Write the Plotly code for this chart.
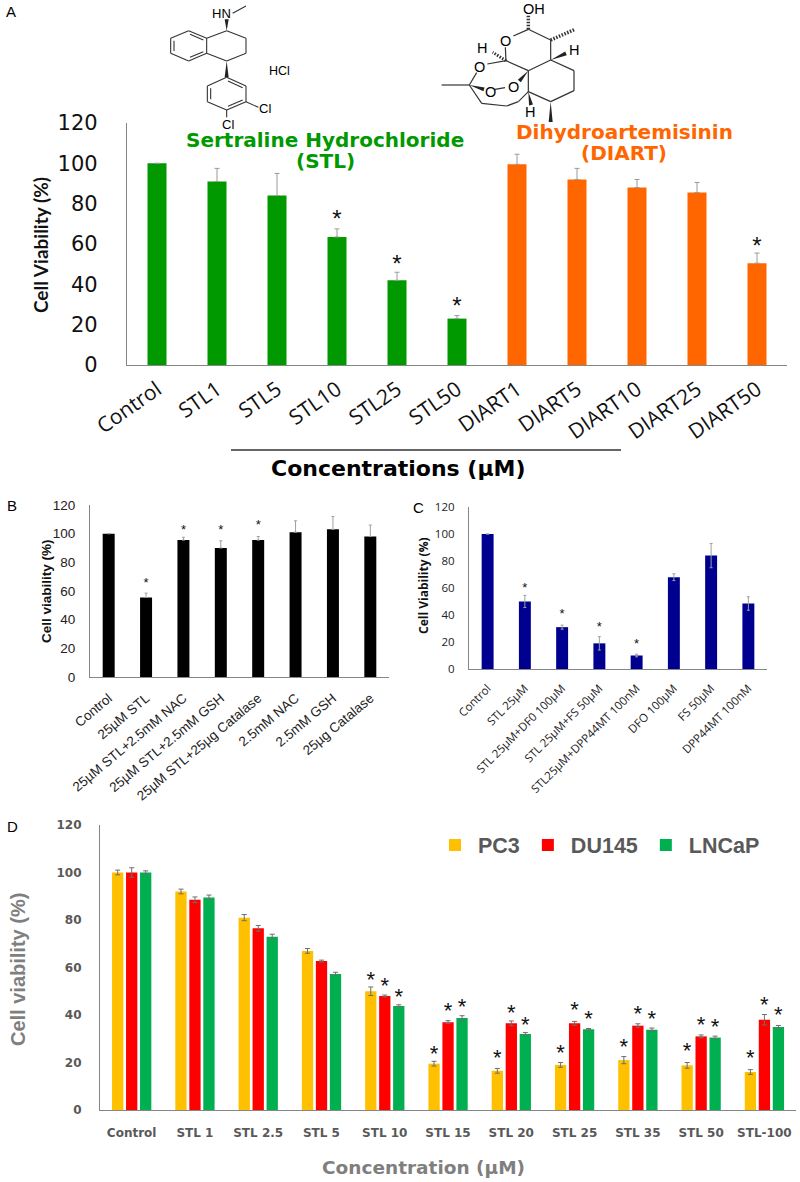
import plotly.graph_objects as go

W, H = 800, 1182

# ---------- data ----------
a_labels = ["Control", "STL1", "STL5", "STL10", "STL25", "STL50", "DIART1", "DIART5", "DIART10", "DIART25", "DIART50"]
a_values = [100, 91, 84, 63.5, 42, 23, 99.5, 92, 88, 85.5, 50.5]
a_errors = [0, 6.5, 11, 4, 4, 1.5, 5, 5.5, 4, 5, 5]
a_colors = ["#009900"] * 6 + ["#FF6600"] * 5
a_star_x = ["STL10", "STL25", "STL50", "DIART50"]
a_star_y = [71.5, 49, 28.2, 58]

b_labels = ["Control", "25µM STL", "25µM STL+2.5mM NAC", "25µM STL+2.5mM GSH", "25µM STL+25µg Catalase",
            "2.5mM NAC", "2.5mM GSH", "25µg Catalase"]
b_values = [100, 55.5, 95.5, 90, 95.5, 101, 103, 98]
b_errors = [0, 3, 2, 5, 2.5, 8, 9, 8]
b_star_x = ["25µM STL", "25µM STL+2.5mM NAC", "25µM STL+2.5mM GSH", "25µM STL+25µg Catalase"]
b_star_y = [65.3, 101.9, 101.9, 105.6]

c_labels = ["Control", "STL 25µM", "STL 25µM+DF0 100µM", "STL 25µM+FS 50µM", "STL25µM+DPP44MT 100nM",
            "DFO 100µM", "FS 50µM", "DPP44MT 100nM"]
c_values = [100, 50, 31, 19, 10, 68, 84, 48.5]
c_errors = [0, 4.5, 1.5, 5, 1, 2.5, 9, 5]
c_star_x = ["STL 25µM", "STL 25µM+DF0 100µM", "STL 25µM+FS 50µM", "STL25µM+DPP44MT 100nM"]
c_star_y = [59.8, 40.2, 30.5, 18.2]

d_labels = ["Control", "STL 1", "STL 2.5", "STL 5", "STL 10", "STL 15", "STL 20", "STL 25", "STL 35", "STL 50", "STL-100"]
d_pc3 = [100, 92, 81, 67, 50, 19.5, 16.5, 19, 21, 18.8, 16]
d_du145 = [100, 88.5, 76.5, 62.7, 48, 37, 36.5, 36.5, 35.5, 31, 38]
d_lncap = [100, 89.5, 73, 57.3, 43.8, 38.7, 32, 34, 33.8, 30.5, 35]
d_pc3_err = [1, 1, 1.3, 1, 1.8, 1, 1, 1, 1.5, 1.2, 1]
d_du145_err = [2, 1.2, 1.2, 0.4, 0.4, 0.6, 1, 0.8, 0.8, 0.6, 2.2]
d_lncap_err = [0.7, 1, 1, 0.7, 0.5, 1, 0.6, 0.3, 0.7, 0.6, 0.6]
d_star_idx = [4, 5, 6, 7, 8, 9, 10]
d_pc3_star = [54.3, 23, 21.3, 23.4, 25.8, 24.1, 21.1]
d_du145_star = [51.5, 41, 40.2, 41.6, 39.6, 35, 43.5]
d_lncap_star = [46.9, 42.8, 35.3, 37.8, 37.5, 34.5, 39.3]
y_ticks = [0, 20, 40, 60, 80, 100, 120]

# ---------- helpers ----------
def px(x): return x / W
def py(y): return 1 - y / H

SANS = "Liberation Sans"
OPEN = "Open Sans"
LATO = "Lato"
DEJA = "DejaVu Sans"
shapes, annots = [], []

def txt(x, y, s, size, color="#000", family=SANS, bold=False, angle=0, xanchor="center"):
    annots.append(dict(x=px(x), y=py(y), xref="paper", yref="paper", text=f"<b>{s}</b>" if bold else s,
                       showarrow=False, font=dict(size=size, color=color, family=family),
                       textangle=angle, xanchor=xanchor, yanchor="middle"))

def seg(p, q, ox=0, oy=0, color="#333", width=1.1, dash=None, k=1/3):
    ln = dict(color=color, width=width)
    if dash: ln["dash"] = dash
    shapes.append(dict(type="line", xref="paper", yref="paper", x0=px(ox + p[0]*k), y0=py(oy + p[1]*k),
                       x1=px(ox + q[0]*k), y1=py(oy + q[1]*k), line=ln))

def wedge(p, q, ox=0, oy=0, hw=2.0, color="#222", k=1/3):
    x0, y0, x1, y1 = ox + p[0]*k, oy + p[1]*k, ox + q[0]*k, oy + q[1]*k
    dx, dy = x1 - x0, y1 - y0
    n = (dx*dx + dy*dy) ** 0.5
    nx, ny = -dy/n*hw, dx/n*hw
    path = f"M {px(x0)} {py(y0)} L {px(x1+nx)} {py(y1+ny)} L {px(x1-nx)} {py(y1-ny)} Z"
    shapes.append(dict(type="path", xref="paper", yref="paper", path=path,
                       fillcolor=color, line=dict(color=color, width=0)))

def axes(x0, x1, y0, y1, n, tfont, yfont, xlen, ylen, angle, color="#868686", lw=1.2):
    xa = dict(domain=[px(x0), px(x1)], range=[-0.5, n - 0.5], showgrid=False, zeroline=False, showline=True,
              linecolor=color, linewidth=lw, ticks="outside", ticklen=xlen, tickcolor="rgba(0,0,0,0)",
              tickfont=tfont, tickangle=angle, automargin=False, fixedrange=True)
    ya = dict(domain=[py(y1), py(y0)], range=[0, 120], tickvals=y_ticks, showgrid=False, zeroline=False, showline=True,
              linecolor=color, linewidth=lw, ticks="outside", ticklen=ylen, tickcolor="rgba(0,0,0,0)",
              tickfont=yfont, automargin=False, fixedrange=True)
    return xa, ya

def stars(x, y, xa, ya, size, color="#111"):
    return go.Scatter(x=x, y=y, mode="text", text=["*"] * len(x), textposition="middle center",
                      textfont=dict(size=size, color=color, family=SANS),
                      xaxis=xa, yaxis=ya, showlegend=False, hoverinfo="skip", cliponaxis=False)

fig = go.Figure()

# ---------- panel A ----------
fig.add_trace(go.Bar(x=a_labels, y=a_values, marker=dict(color=a_colors, line_width=0), xaxis="x", yaxis="y",
                     showlegend=False, width=19/60,
                     error_y=dict(type="data", array=a_errors, symmetric=False, color="#9a9a9a", thickness=1, width=2.5)))
fig.add_trace(stars(a_star_x, a_star_y, "x", "y", 24))

# ---------- panel B ----------
fig.add_trace(go.Bar(x=b_labels, y=b_values, marker=dict(color="#000", line_width=0), xaxis="x2", yaxis="y2",
                     showlegend=False, width=12/37.4,
                     error_y=dict(type="data", array=b_errors, symmetric=False, color="#a0a0a0", thickness=1, width=1.5)))
fig.add_trace(stars(b_star_x, b_star_y, "x2", "y2", 13))

# ---------- panel C ----------
fig.add_trace(go.Bar(x=c_labels, y=c_values, marker=dict(color="#000090", line_width=0), xaxis="x3", yaxis="y3",
                     showlegend=False, width=12/37.4,
                     error_y=dict(type="data", array=c_errors, symmetric=True, color="#a0a0a0", thickness=1, width=1.5)))
fig.add_trace(stars(c_star_x, c_star_y, "x3", "y3", 13))

# ---------- panel D ----------
d_x = list(range(len(d_labels)))
pitch = 14 / 63.3
for name, vals, errs, col, star, k in [("PC3", d_pc3, d_pc3_err, "#FFC000", d_pc3_star, -1),
                                       ("DU145", d_du145, d_du145_err, "#FF0000", d_du145_star, 0),
                                       ("LNCaP", d_lncap, d_lncap_err, "#00B050", d_lncap_star, 1)]:
    fig.add_trace(go.Bar(x=d_x, y=vals, name=name, marker=dict(color=col, line_width=0), xaxis="x4", yaxis="y4",
                         offset=k*pitch - 5.6/63.3, width=11.3/63.3,
                         error_y=dict(type="data", array=errs, symmetric=True, color="#6e6e6e", thickness=1, width=2.5)))
    fig.add_trace(stars([i + k*pitch for i in d_star_idx], star, "x4", "y4", 22))

# ---------- axes ----------
xa, ya = axes(127, 787, 123, 365, 11, dict(family=OPEN, size=21, color="#111"), dict(family=DEJA, size=21, color="#111"), 3, 24, -35)
xb, yb = axes(90, 389, 505, 677, 8, dict(family=SANS, size=13.5, color="#222"), dict(family=SANS, size=13.5, color="#222"), 7, 11, -40)
xc, yc = axes(469, 767, 507, 669, 8, dict(family=OPEN, size=11.5, color="#222"), dict(family=OPEN, size=11.5, color="#222"), 7, 11, -45)
xd, yd = axes(100, 796, 825, 1110, 11, dict(family=DEJA, size=12, color="#595959", weight="bold"),
              dict(family=DEJA, size=12, color="#595959", weight="bold"), 11, 15, 0)
xd.update(tickvals=d_x, ticktext=d_labels)
for ax, idx in [((xb, yb), 2), ((xc, yc), 3), ((xd, yd), 4)]:
    ax[0]["anchor"] = f"y{idx}"
    ax[1]["anchor"] = f"x{idx}"

# ---------- texts ----------
txt(11, 11, "A", 15)
txt(12, 505, "B", 15)
txt(418, 507, "C", 15)
txt(12, 826, "D", 15)
txt(325, 140, "Sertraline Hydrochloride", 20, "#009900", family=DEJA, bold=True)
txt(325, 161, "(STL)", 20, "#009900", family=DEJA, bold=True)
txt(624, 132, "Dihydroartemisinin", 20, "#FF6600", family=DEJA, bold=True)
txt(624, 153, "(DIART)", 20, "#FF6600", family=DEJA, bold=True)
txt(41, 245, "Cell Viability (%)", 19, "#111", family=LATO, bold=True, angle=-90)
txt(398, 468, "Concentrations (µM)", 22, "#000", family=DEJA, bold=True)
txt(46, 591, "Cell viability (%)", 13.5, "#111", bold=True, angle=-90)
txt(423, 586, "Cell Viability (%)", 12, "#111", family=OPEN, bold=True, angle=-90)
txt(18, 970, "Cell viability (%)", 20, "#7f7f7f", bold=True, angle=-90)
txt(423, 1167, "Concentration (µM)", 18.5, "#7f7f7f", family=DEJA, bold=True)

# rule under panel A
seg((231, 450), (621, 450), color="#333", width=1.5, k=1)

# ---------- sertraline ----------
OX, OY = 160, 0
ring = [(86, 92), (140, 115), (140, 160), (86, 183), (32, 160), (32, 115), (86, 92)]
for p, q in zip(ring, ring[1:]): seg(p, q, OX, OY)
for p, q in [((90, 103), (130, 120)), ((90, 172), (130, 155)), ((42, 122), (42, 153))]: seg(p, q, OX, OY)
ring = [(140, 115), (200, 92), (258, 115), (258, 160), (200, 183), (140, 160)]
for p, q in zip(ring, ring[1:]): seg(p, q, OX, OY)
wedge((200, 92), (200, 58), OX, OY)
wedge((200, 183), (200, 232), OX, OY)
seg((218, 40), (258, 18), OX, OY)
ring = [(200, 232), (258, 258), (258, 305), (200, 330), (142, 305), (142, 258), (200, 232)]
for p, q in zip(ring, ring[1:]): seg(p, q, OX, OY)
for p, q in [((204, 243), (248, 263)), ((204, 319), (248, 300)), ((152, 265), (152, 298))]: seg(p, q, OX, OY)
seg((258, 305), (295, 322), OX, OY)
seg((200, 330), (200, 352), OX, OY)
txt(OX + 185/3, OY + 42/3, "HN", 13)
txt(OX + 315/3, OY + 325/3, "Cl", 13)
txt(OX + 205/3, OY + 372/3, "Cl", 13)
txt(279, 71, "HCl", 12.5)

# ---------- dihydroartemisinin ----------
OX = 430
for p, q in [((295, 88), (250, 108)), ((295, 88), (362, 120)), ((362, 120), (362, 180)), ((362, 180), (295, 212)),
             ((362, 180), (432, 212)), ((432, 212), (432, 272)), ((432, 272), (362, 305)), ((362, 305), (295, 275)),
             ((295, 275), (295, 212)), ((295, 212), (228, 182)), ((228, 182), (226, 142)), ((228, 182), (172, 192)),
             ((140, 218), (118, 255)), ((118, 255), (35, 255)), ((195, 268), (225, 263)), ((295, 275), (265, 305)),
             ((265, 305), (230, 318)), ((230, 318), (155, 310)), ((155, 310), (118, 255))]:
    seg(p, q, OX, OY, width=1.2)
wedge((362, 180), (408, 160), OX, OY)
wedge((118, 255), (162, 268), OX, OY)
wedge((295, 212), (268, 243), OX, OY)
wedge((295, 275), (303, 315), OX, OY)
wedge((362, 305), (362, 366), OX, OY)
seg((295, 88), (295, 45), OX, OY, width=3.5, dash="1.5px,1.5px")
seg((362, 120), (435, 88), OX, OY, width=3.5, dash="1.5px,1.5px")
seg((228, 182), (188, 157), OX, OY, width=3, dash="1.5px,1.5px")
txt(OX + 313/3, 28/3, "OH", 14.5)
txt(OX + 225/3, 122/3, "O", 14.5)
txt(OX + 432/3, 150/3, "H", 14.5)
txt(OX + 157/3, 145/3, "H", 14.5)
txt(OX + 147/3, 200/3, "O", 14.5)
txt(OX + 180/3, 275/3, "O", 14.5)
txt(OX + 250/3, 260/3, "O", 14.5)
txt(OX + 300/3, 335/3, "H", 14.5)

fig.update_layout(
    width=W, height=H, autosize=False, margin=dict(l=0, r=0, t=0, b=0),
    paper_bgcolor="white", plot_bgcolor="white", barmode="overlay",
    xaxis=xa, yaxis=ya, xaxis2=xb, yaxis2=yb, xaxis3=xc, yaxis3=yc, xaxis4=xd, yaxis4=yd,
    shapes=shapes, annotations=annots, showlegend=True,
    legend=dict(orientation="h", x=px(432), y=py(845), xanchor="left", yanchor="middle", itemwidth=36,
                font=dict(family=SANS, size=21.5, color="#595959", weight="bold"), bgcolor="rgba(0,0,0,0)",
                traceorder="normal"),
)
fig.write_html("out.html", post_script="document.body.style.margin='0';", config={"displayModeBar": False})
